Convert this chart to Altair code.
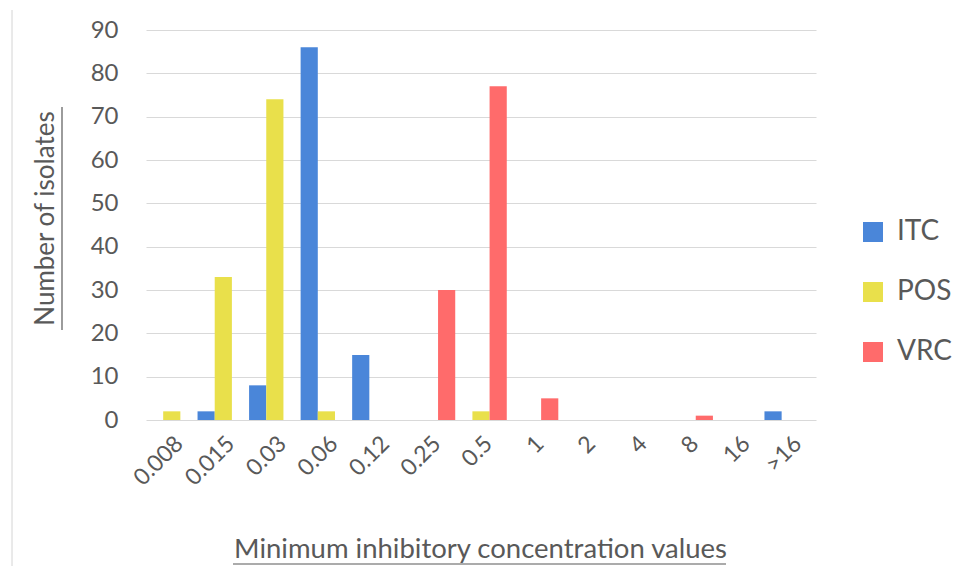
import altair as alt
import pandas as pd

categories = ["0.008", "0.015", "0.03", "0.06", "0.12", "0.25", "0.5", "1", "2", "4", "8", "16", ">16"]
itc = [0, 2, 8, 86, 15, 0, 0, 0, 0, 0, 0, 0, 2]
pos = [2, 33, 74, 2, 0, 0, 2, 0, 0, 0, 0, 0, 0]
vrc = [0, 0, 0, 0, 0, 30, 77, 5, 0, 0, 1, 0, 0]
drugs = ["ITC", "POS", "VRC"]
colors = ["#4A86D9", "#E9E04B", "#FF6B6B"]

rows = []
for d, vals in zip(drugs, [itc, pos, vrc]):
    for c, v in zip(categories, vals):
        rows.append({"mic": c, "drug": d, "count": v})
df = pd.DataFrame(rows)

FONT = "Lato"
TXT = "#595959"

bars = alt.Chart(df).mark_bar().encode(
    x=alt.X("mic:N", sort=categories,
            scale=alt.Scale(paddingInner=0, paddingOuter=0),
            axis=alt.Axis(title="Minimum inhibitory concentration values",
                          labelAngle=-45, labelFontSize=23, labelColor=TXT,
                          labelFont=FONT, labelPadding=12, ticks=False, domain=False,
                          titleFont=FONT, titleFontSize=27.5, titleFontWeight="normal",
                          titleColor=TXT, titleX=334, titleY=129,
                          titleBaseline="middle", titleAlign="center")),
    xOffset=alt.XOffset("drug:N", sort=drugs, scale=alt.Scale(paddingInner=0, paddingOuter=0)),
    y=alt.Y("count:Q", scale=alt.Scale(domain=[0, 90]),
            axis=alt.Axis(title="Number of isolates", values=list(range(0, 91, 10)),
                          labelFontSize=24, labelColor=TXT, labelFont=FONT,
                          labelPadding=28, ticks=False, domain=False,
                          gridColor="#D9D9D9", gridWidth=1,
                          titleFont=FONT, titleFontSize=26, titleFontWeight="normal",
                          titleColor=TXT, titleX=-101, titleY=188, titleAngle=270,
                          titleBaseline="middle", titleAlign="center")),
    color=alt.Color("drug:N", sort=drugs,
                    scale=alt.Scale(domain=drugs, range=colors),
                    legend=alt.Legend(title=None, orient="none", legendX=713, legendY=188,
                                      symbolType="square", symbolSize=400,
                                      symbolStrokeWidth=0,
                                      labelFontSize=28, labelFont=FONT, labelColor=TXT,
                                      labelOffset=10, rowPadding=32, padding=0)),
)

one = pd.DataFrame({"k": [0]})
y_underline = alt.Chart(one).mark_rule(color=TXT, strokeWidth=1.2).encode(
    x=alt.value(-84), y=alt.value(77), y2=alt.value(300))
x_underline = alt.Chart(one).mark_rule(color=TXT, strokeWidth=1.2).encode(
    x=alt.value(87), x2=alt.value(580), y=alt.value(534))
frame = alt.Chart(one).mark_rule(color="#D4D4D4", strokeWidth=1).encode(
    x=alt.value(-134), y=alt.value(-20), y2=alt.value(546))

chart = alt.layer(bars, y_underline, x_underline, frame).properties(
    width=670, height=390,
    autosize=alt.AutoSizeParams(type="none"),
    padding={"left": 138, "top": 22, "right": 141, "bottom": 146},
    background="white",
).configure_view(stroke=None)

chart.save("out.html", embed_options={"renderer": "svg", "actions": False})
